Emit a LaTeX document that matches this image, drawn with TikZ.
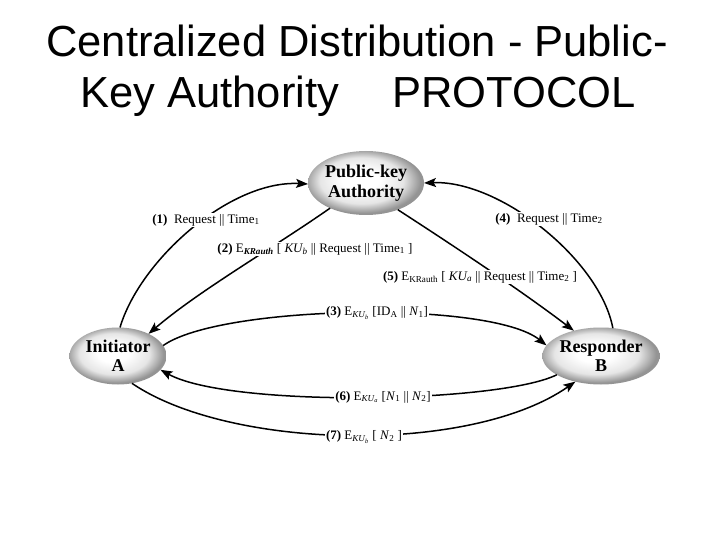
\documentclass[tikz,border=0pt]{standalone}
\usepackage{fontspec}
\setmainfont{Liberation Serif}
\newfontfamily\titlefont{Liberation Sans}
\usetikzlibrary{arrows.meta,shapes.geometric}
\colorlet{ballmid}{black!10}
\colorlet{balledge}{black!42}
\pgfdeclareradialshading{ballgray}{\pgfpoint{-3bp}{3bp}}{color(0bp)=(white); color(8bp)=(white); color(18bp)=(ballmid); color(25bp)=(balledge); color(50bp)=(balledge)}
\tikzset{
  party/.style={ellipse, shading=ballgray, inner sep=0pt, outer sep=0pt, align=center,
    font=\fontsize{18}{19.5}\selectfont\bfseries},
  msg/.style={-{Stealth[length=12pt,width=9pt,inset=2.5pt]}, line width=1.5pt},
  lbl/.style={fill=white, inner sep=1.5pt, font=\fontsize{13}{15}\selectfont},
  ttl/.style={font=\titlefont\fontsize{43.5}{50}\selectfont, anchor=base, inner sep=0pt}
}
\begin{document}
\begin{tikzpicture}[x=1pt,y=-1pt]
\useasboundingbox[fill=white] (0,0) rectangle (720,540);
\node[ttl] (t1) at (357,57) {Centralized Distribution - Public-};
\node[ttl] (t2) at (358,108) {Key Authority\hspace{53pt}PROTOCOL};

\node[party, minimum width=113pt, minimum height=64pt] (K) at (366,183) {Public-key\\Authority};
\node[party, minimum width=97pt, minimum height=57pt] (A) at (118,356) {Initiator\\A};
\node[party, minimum width=96pt, minimum height=57pt] (B) at (601,356) {Responder\\B};

\draw[msg] (A.86) .. controls (140,260) and (230,180) .. (K.181);
\draw[msg] (B.67) .. controls (600,260) and (500,180) .. (K.0);
\draw[msg] (K.215) .. controls (270,250) and (200,290) .. (A.36);
\draw[msg] (K.320) .. controls (460,250) and (520,290) .. (B.137);
\draw[msg] (A.13) .. controls (220,305) and (490,300) .. (B.169);
\draw[msg] (B.203) .. controls (500,403) and (230,408) .. (A.342);
\draw[msg] (A.297) .. controls (230,450) and (470,455) .. (B.225);

\node[lbl] (l1) at (206,220) {\textbf{(1)}~~Request || Time\textsubscript{1}};
\node[lbl] (l4) at (549,219) {\textbf{(4)}~~Request || Time\textsubscript{2}};
\node[lbl] (l2) at (315,249) {\textbf{(2)} E\textsubscript{\textbf{\textit{KRauth}}} [ \textit{KU\textsubscript{b}} || Request || Time\textsubscript{1} ]};
\node[lbl] (l5) at (480,277) {\textbf{(5)} E\textsubscript{KRauth} [ \textit{KU\textsubscript{a}} || Request || Time\textsubscript{2} ]};
\node[lbl] (l3) at (377,313) {\textbf{(3)} E\textsubscript{\textit{KU\textsubscript{b}}} [ID\textsubscript{A} || \textit{N}\textsubscript{1}]};
\node[lbl] (l6) at (383,397) {\textbf{(6)} E\textsubscript{\textit{KU\textsubscript{a}}} [\textit{N}\textsubscript{1} || \textit{N}\textsubscript{2}]};
\node[lbl] (l7) at (364,437) {\textbf{(7)} E\textsubscript{\textit{KU\textsubscript{b}}} [ \textit{N}\textsubscript{2} ]};
\end{tikzpicture}
\end{document}
